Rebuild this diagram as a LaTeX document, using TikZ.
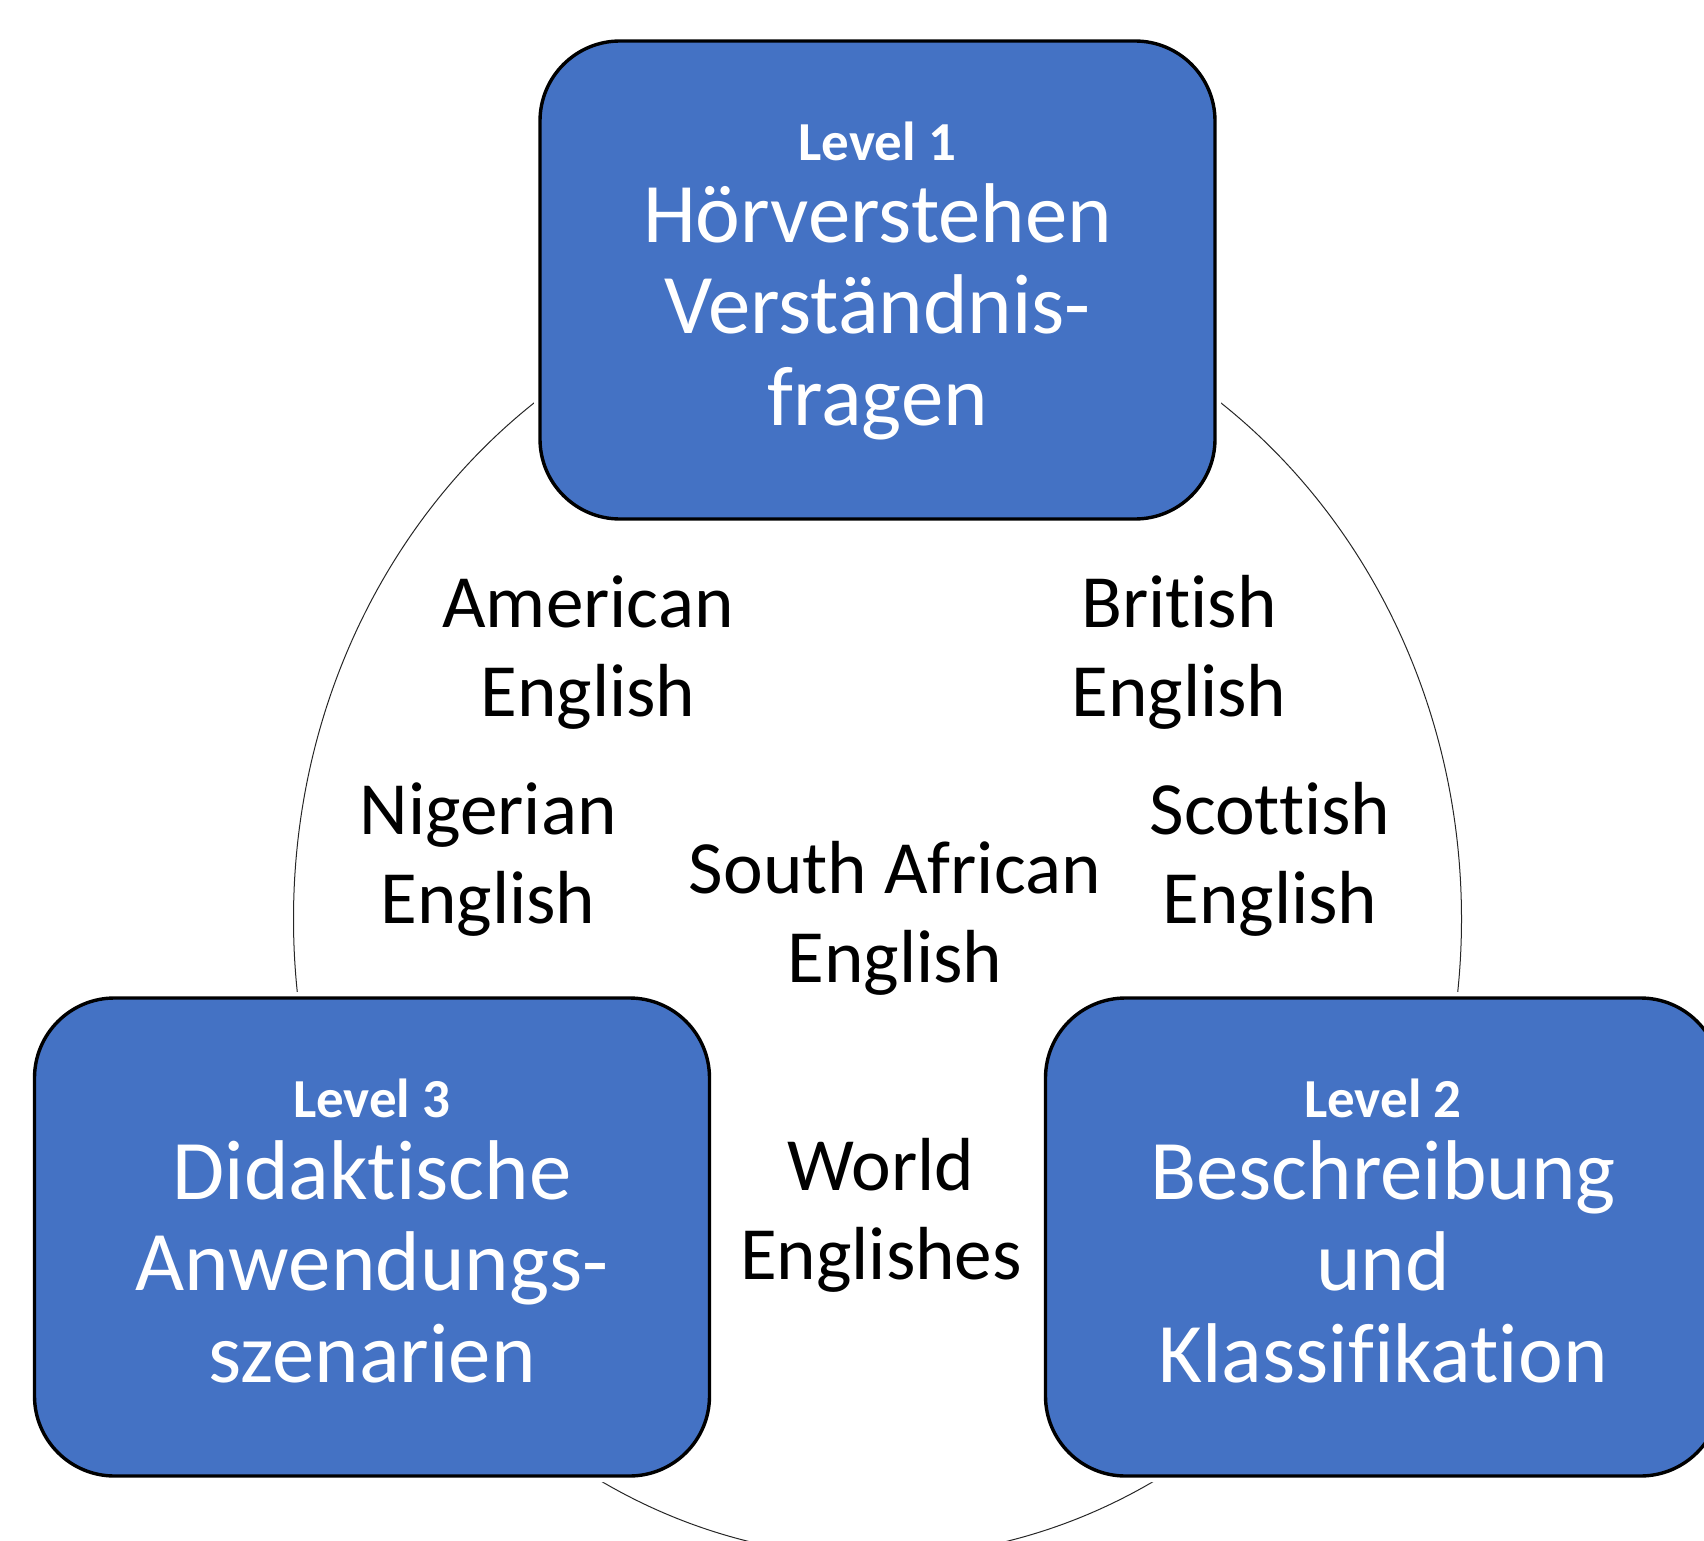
\documentclass[tikz,border=0pt]{standalone}
\usepackage{fontspec}
\setmainfont{Carlito}[Ligatures=NoCommon]
\usetikzlibrary{calc}
\definecolor{boxblue}{HTML}{4472C4}
\newcommand{\lvltext}[1]{{\fontsize{27.5}{30}\selectfont\bfseries #1}}
\begin{document}
\begin{tikzpicture}[x=0.5pt,y=-0.5pt,
  levelbox/.style={draw=black, line width=1.7pt, fill=boxblue, rounded corners=40pt,
    minimum width=337.5pt, minimum height=239pt, inner sep=0pt,
    preaction={draw=white, line width=6pt}},
  boxtext/.style={text=white, align=center, font=\fontsize{42.4}{45.6}\selectfont, anchor=base, inner sep=0pt},
  vartext/.style={text=black, align=center, font=\fontsize{37.6}{44.5}\selectfont, anchor=base, inner sep=0pt},
  ring/.style={draw=black!85, line width=0.5pt}]
\useasboundingbox (0,0) rectangle (1704,1541);
\clip (0,0) rectangle (1704,1541);
\draw[ring] (877.5,919) ellipse [x radius=584, y radius=638];
\node[levelbox] (b1) at (877.5,280) {};
\node[levelbox] (b3) at (372,1237) {};
\node[levelbox] (b2) at (1383,1237) {};
\node[boxtext] (t1) at (877.5,425) {\lvltext{Level 1}\\[-4.3pt]Hörverstehen\\Verständnis-\\fragen};
\node[boxtext] (t3) at (372,1382) {\lvltext{Level 3}\\[-4.3pt]Didaktische\\Anwendungs-\\szenarien};
\node[boxtext] (t2) at (1383,1382) {\lvltext{Level 2}\\[-4.3pt]Beschreibung\\und\\Klassifikation};
\node[vartext] (am) at (588,716) {American\\English};
\node[vartext] (br) at (1179,716) {British\\English};
\node[vartext] (ng) at (488,923) {Nigerian\\English};
\node[vartext] (sa) at (895,982) {South African\\English};
\node[vartext] (sc) at (1270,923) {Scottish\\English};
\node[vartext] (we) at (881,1279) {World\\Englishes};
\end{tikzpicture}
\end{document}
